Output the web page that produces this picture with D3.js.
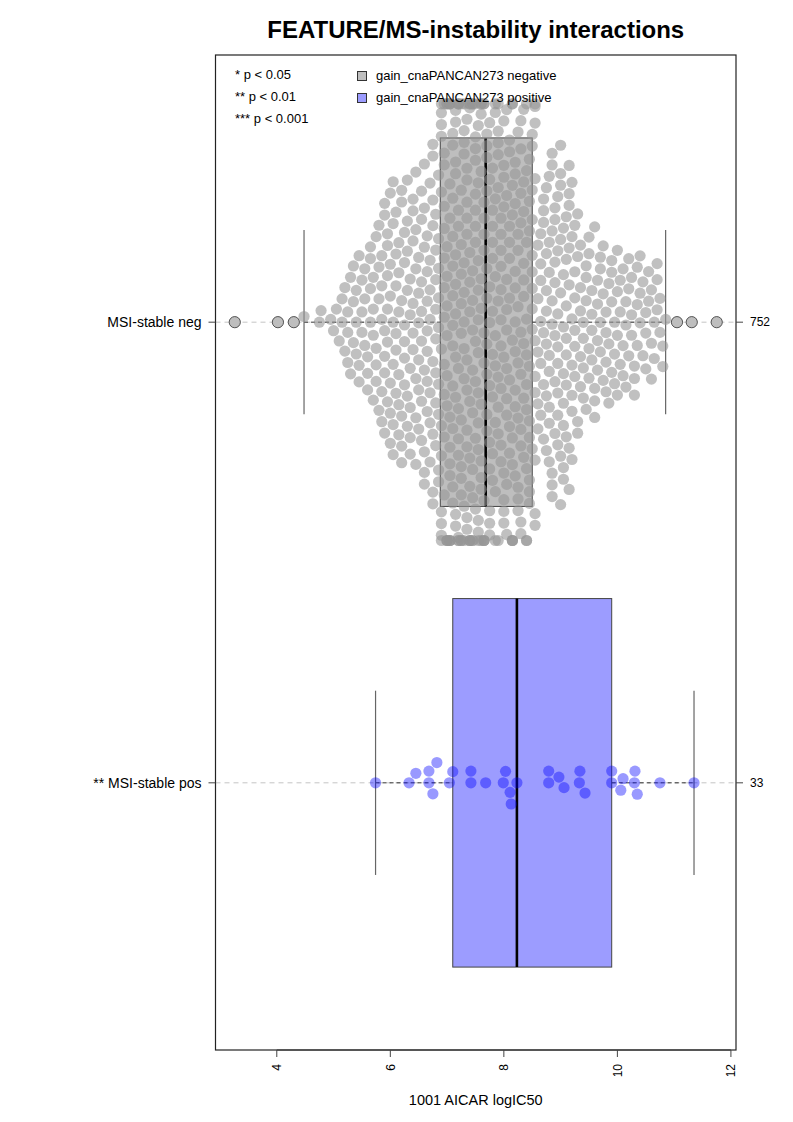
<!DOCTYPE html>
<html><head><meta charset="utf-8">
<script src="https://cdn.jsdelivr.net/npm/d3@7/dist/d3.min.js"></script>
<style>
body{margin:0;background:#fff;}
text{font-family:"Liberation Sans",Arial,Helvetica,sans-serif;fill:#000;}
</style>
</head><body>
<svg id="chart" width="793" height="1122"></svg>
<script>
// ---------------- data ----------------
const groups = ["MSI-stable neg", "** MSI-stable pos"];
const groupN = [752, 33];
const xTicks = [4, 6, 8, 10, 12];
const sigLegend = ["* p < 0.05", "** p < 0.01", "*** p < 0.001"];
const featLegend = ["gain_cnaPANCAN273 negative", "gain_cnaPANCAN273 positive"];

// group 1 (MSI-stable neg): values binned at 0.05 with counts
const negBinValues = [4.48,4.75,4.78,4.95,5.00,5.05,5.10,5.15,5.20,5.25,5.30,5.35,5.40,5.45,5.50,5.55,5.60,5.65,5.70,5.75,5.80,5.85,5.90,5.95,
 6.00,6.05,6.10,6.15,6.20,6.25,6.30,6.35,6.40,6.45,6.50,6.55,6.60,6.65,6.70,6.75,6.80,6.85,
 6.90,6.95,7.00,7.05,7.10,7.15,7.20,7.25,7.30,7.35,7.40,7.45,7.50,7.55,7.60,7.65,
 7.70,7.75,7.80,7.85,7.90,7.95,8.00,8.05,8.10,8.15,8.20,8.25,8.30,8.35,8.40,8.45,8.50,8.55,
 8.60,8.65,8.70,8.75,8.80,8.85,8.90,8.95,9.00,9.05,9.10,9.15,9.20,9.25,
 9.30,9.35,9.40,9.45,9.50,9.55,9.60,9.65,9.70,9.75,9.80,9.85,9.90,9.95,10.00,10.05,
 10.10,10.15,10.20,10.25,10.30,10.35,10.40,10.45,10.50,10.55,10.60,10.65,10.70,10.75,10.80,10.85];
const negBinCounts = [1,1,1,1,1,1,1,2,2,3,2,3,3,3,3,3,3,4,4,4,4,5,6,6,
 6,6,6,6,6,6,6,6,6,6,6,7,7,7,7,8,8,9,
 12,12,11,12,12,11,12,12,11,12,12,11,12,12,11,12,
 10,10,10,9,10,10,9,10,9,10,10,9,10,9,10,9,10,10,
 5,6,6,7,8,8,7,8,7,8,7,7,7,6,
 4,5,4,4,4,4,4,4,4,3,4,3,4,3,4,3,
 3,3,3,3,3,3,3,2,3,2,3,2,3,2,2,1];
const negOutliers = [3.26, 4.02, 4.30, 11.05, 11.31, 11.75];
// group 2 (MSI-stable pos): individual values
const posValues = [5.74,6.33,6.45,6.68,6.68,6.75,6.82,7.04,7.10,7.42,7.42,7.68,7.99,8.03,8.11,8.13,8.23,
 8.79,8.79,8.97,9.06,9.33,9.34,9.43,9.90,9.90,10.06,10.10,10.30,10.31,10.35,10.75,11.35];
// box statistics: [lower whisker, Q1, median, Q3, upper whisker]
const negBox = [4.48, 6.88, 7.68, 8.50, 10.85];
const posBox = [5.74, 7.10, 8.23, 9.90, 11.35];

// ---------------- setup ----------------
const svg = d3.select("#chart");
const P = {l: 215.5, r: 736, t: 55, b: 1050};

const negAll = [];
negBinValues.forEach((v, i) => { for (let k = 0; k < negBinCounts[i]; k++) negAll.push(v); });
negOutliers.forEach(v => negAll.push(v));

const ext = d3.extent(negAll.concat(posValues));
const pad = (ext[1] - ext[0]) * 0.04;
const x = d3.scaleLinear().domain([ext[0] - pad, ext[1] + pad]).range([P.l, P.r]);
const y = d3.scaleLinear().domain([0.42, 2.58]).range([P.t, P.b]);

const series = [
  {name: groups[0], n: groupN[0], vals: negAll, box: negBox, pos: 1,
   boxFill: "#bebebe", ptFill: "rgba(150,150,150,0.6)", outliers: negOutliers},
  {name: groups[1], n: groupN[1], vals: posValues, box: posBox, pos: 2,
   boxFill: "#9c9cff", ptFill: "rgba(0,0,255,0.4)", outliers: []}
];

// swarm layout (ascending priority, closest-to-centre placement)
function swarm(vals, d, limit) {
  const pts = vals.map(v => ({v: v, px: x(v), off: 0})).sort((a, b) => a.px - b.px);
  for (let i = 0; i < pts.length; i++) {
    const p = pts[i];
    const near = [];
    for (let j = i - 1; j >= 0; j--) {
      if (p.px - pts[j].px >= d) break;
      near.push(pts[j]);
    }
    near.reverse();
    const cands = [0];
    near.forEach(q => cands.push(q.off + Math.sqrt(d * d - (p.px - q.px) ** 2)));
    near.forEach(q => cands.push(q.off - Math.sqrt(d * d - (p.px - q.px) ** 2)));
    let best = 0, bestAbs = Infinity;
    for (const c of cands) {
      const a = Math.abs(c);
      if (a >= bestAbs) continue;
      let ok = true;
      for (const q of near) {
        const dx = p.px - q.px, dy = c - q.off;
        if (dx * dx + dy * dy < d * d * 0.999) { ok = false; break; }
      }
      if (ok) { best = c; bestAbs = a; }
    }
    p.off = best;
  }
  pts.forEach(p => { p.shown = Math.max(-limit, Math.min(limit, p.off)); });
  return pts;
}

const unit = y(2) - y(1);
const spacing = 11.7, rad = 5.6, gutter = 0.474 * unit;

// title
svg.append("text").attr("x", (P.l + P.r) / 2).attr("y", 38).attr("text-anchor", "middle")
  .style("font-size", "24px").style("font-weight", "bold").text("FEATURE/MS-instability interactions");

// grid lines at groups
series.forEach(s => {
  svg.append("line").attr("x1", P.l).attr("x2", P.r).attr("y1", y(s.pos)).attr("y2", y(s.pos))
    .attr("stroke", "#c4c4c4").attr("stroke-dasharray", "5,4").attr("stroke-width", 1);
});

// boxplots
series.forEach(s => {
  const b = s.box, cy = y(s.pos);
  const g = svg.append("g");
  g.append("line").attr("x1", x(b[0])).attr("x2", x(b[1])).attr("y1", cy).attr("y2", cy)
    .attr("stroke", "#333").attr("stroke-dasharray", "4,3");
  g.append("line").attr("x1", x(b[3])).attr("x2", x(b[4])).attr("y1", cy).attr("y2", cy)
    .attr("stroke", "#333").attr("stroke-dasharray", "4,3");
  [b[0], b[4]].forEach(v => g.append("line").attr("x1", x(v)).attr("x2", x(v))
    .attr("y1", y(s.pos - 0.2)).attr("y2", y(s.pos + 0.2)).attr("stroke", "#666").attr("stroke-width", 1.2));
  g.append("rect").attr("x", x(b[1])).attr("width", x(b[3]) - x(b[1]))
    .attr("y", y(s.pos - 0.4)).attr("height", y(s.pos + 0.4) - y(s.pos - 0.4))
    .attr("fill", s.boxFill).attr("stroke", "#444").attr("stroke-width", 1);
  g.append("line").attr("x1", x(b[2])).attr("x2", x(b[2]))
    .attr("y1", y(s.pos - 0.4)).attr("y2", y(s.pos + 0.4)).attr("stroke", "#000").attr("stroke-width", 2.6);
});

// swarm points
series.forEach(s => {
  const pts = swarm(s.vals, spacing, gutter);
  svg.append("g").selectAll("circle").data(pts).join("circle")
    .attr("cx", d => d.px).attr("cy", d => y(s.pos) - d.shown).attr("r", rad)
    .attr("fill", s.ptFill);
  svg.append("g").selectAll("circle").data(s.outliers).join("circle")
    .attr("cx", d => x(d)).attr("cy", y(s.pos)).attr("r", rad)
    .attr("fill", "#bebebe").attr("stroke", "#555").attr("stroke-width", 1);
});

// frame
svg.append("rect").attr("x", P.l).attr("y", P.t).attr("width", P.r - P.l).attr("height", P.b - P.t)
  .attr("fill", "none").attr("stroke", "#222").attr("stroke-width", 1.2);

// bottom axis
const xa = svg.append("g").attr("transform", `translate(0,${P.b})`);
xa.append("line").attr("x1", x(xTicks[0])).attr("x2", x(xTicks[xTicks.length - 1])).attr("stroke", "#333");
xTicks.forEach(t => {
  xa.append("line").attr("x1", x(t)).attr("x2", x(t)).attr("y1", 0).attr("y2", 7).attr("stroke", "#444");
  xa.append("text").attr("transform", `translate(${x(t)},14) rotate(-90)`).attr("text-anchor", "end")
    .attr("dy", "0.35em").style("font-size", "12px").text(t);
});
svg.append("text").attr("x", (P.l + P.r) / 2).attr("y", 1105).attr("text-anchor", "middle")
  .style("font-size", "14.5px").text("1001 AICAR logIC50");

// left & right axes
series.forEach(s => {
  const cy = y(s.pos);
  svg.append("line").attr("x1", P.l - 7).attr("x2", P.l).attr("y1", cy).attr("y2", cy).attr("stroke", "#444");
  svg.append("text").attr("x", P.l - 14).attr("y", cy).attr("dy", "0.35em").attr("text-anchor", "end")
    .style("font-size", "14px").text(s.name);
  svg.append("line").attr("x1", P.r).attr("x2", P.r + 7).attr("y1", cy).attr("y2", cy).attr("stroke", "#444");
  svg.append("text").attr("x", P.r + 14).attr("y", cy).attr("dy", "0.35em").attr("text-anchor", "start")
    .style("font-size", "12px").text(s.n);
});

// legends
sigLegend.forEach((t, i) => {
  svg.append("text").attr("x", 235).attr("y", 79 + i * 22).style("font-size", "13px").text(t);
});
featLegend.forEach((t, i) => {
  svg.append("rect").attr("x", 357.5).attr("y", 71.5 + i * 22).attr("width", 9).attr("height", 9)
    .attr("fill", series[i].boxFill).attr("stroke", "#333").attr("stroke-width", 1);
  svg.append("text").attr("x", 376).attr("y", 80 + i * 22).style("font-size", "13px").text(t);
});
</script>
</body></html>
